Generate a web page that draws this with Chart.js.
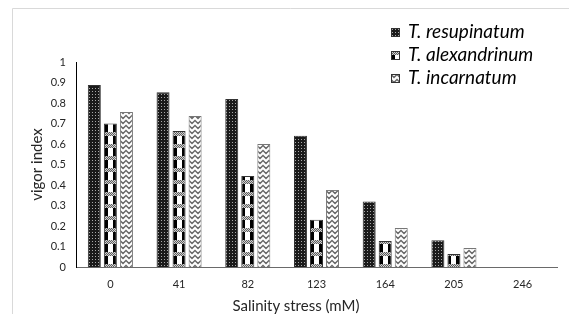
<!DOCTYPE html>
<html>
<head>
<meta charset="utf-8">
<script src="https://cdn.jsdelivr.net/npm/chart.js@4.4.1/dist/chart.umd.min.js"></script>
<style>
html, body { margin: 0; padding: 0; background: #fff; }
#wrap { position: relative; width: 569px; height: 314px; }
#legend { position: absolute; left: 391px; top: 19px; font: italic 19px Lato, sans-serif; color: #000; }
#legend div { height: 23px; line-height: 23px; white-space: nowrap; }
#legend canvas { vertical-align: middle; margin-right: 8px; position: relative; top: -1px; }
#xtitle { position: absolute; left: 196px; width: 200px; top: 297px; text-align: center; font: 15px Lato, sans-serif; line-height: 16px; color: #262626; }
</style>
</head>
<body>
<div id="wrap">
  <canvas id="chart" width="569" height="314"></canvas>
  <div id="legend"></div>
  <div id="xtitle">Salinity stress (mM)</div>
</div>
<script>
var categories = ['0', '41', '82', '123', '164', '205', '246'];
var seriesNames = ['T. resupinatum', 'T. alexandrinum', 'T. incarnatum'];
var resupinatum = [0.888, 0.853, 0.82, 0.64, 0.32, 0.13, 0];
var alexandrinum = [0.70, 0.663, 0.444, 0.23, 0.127, 0.063, 0];
var incarnatum = [0.756, 0.737, 0.60, 0.376, 0.19, 0.093, 0];
var yTickLabels = ['0', '0.1', '0.2', '0.3', '0.4', '0.5', '0.6', '0.7', '0.8', '0.9', '1'];

Chart.defaults.font.family = 'Lato, sans-serif';
Chart.defaults.color = '#262626';

// small tiles for the hatch fills
function tile(kind) {
  var c = document.createElement('canvas'), g;
  if (kind === 0) {
    c.width = 3; c.height = 3;
    g = c.getContext('2d');
    g.fillStyle = '#1a1a1a'; g.fillRect(0, 0, 3, 3);
    g.fillStyle = '#a8a8a8'; g.fillRect(1, 1, 1, 1);
  } else if (kind === 1) {
    c.width = 13; c.height = 12;
    g = c.getContext('2d');
    g.fillStyle = '#fff'; g.fillRect(0, 0, 13, 12);
    for (var y = 0; y < 4; y++)
      for (var x = 0; x < 13; x++) {
        g.fillStyle = (x + y) % 2 ? '#5e5e5e' : '#d0d0d0';
        g.fillRect(x, y, 1, 1);
      }
    g.fillStyle = '#000';
    g.fillRect(0, 4, 4, 8);
    g.fillRect(9, 4, 4, 8);
  } else {
    c.width = 6; c.height = 5;
    g = c.getContext('2d');
    g.fillStyle = '#fff'; g.fillRect(0, 0, 6, 5);
    g.strokeStyle = '#6a6a6a'; g.lineWidth = 1.5;
    g.beginPath();
    for (var k = -1; k <= 1; k++) {
      g.moveTo(-0.5, k * 5); g.lineTo(3, k * 5 + 3.5); g.lineTo(6.5, k * 5);
    }
    g.stroke();
  }
  return c;
}

var ctx = document.getElementById('chart').getContext('2d');
var tiles = [tile(0), tile(1), tile(2)];

function patterns(k, n) {
  var list = [];
  for (var i = 0; i < n; i++) list.push(ctx.createPattern(tiles[k], 'repeat'));
  return list;
}

// line each bar's pattern up with the bar's left edge
var patternAlign = {
  id: 'patternAlign',
  beforeDatasetsDraw: function(chart) {
    chart.data.datasets.forEach(function(ds, i) {
      chart.getDatasetMeta(i).data.forEach(function(bar) {
        var p = bar.options.backgroundColor;
        if (p && p.setTransform) {
          p.setTransform(new DOMMatrix().translate(Math.round(bar.x - bar.width / 2), 0));
        }
      });
    });
  }
};

var frame = {
  id: 'frame',
  beforeDraw: function(chart) {
    var c = chart.ctx;
    c.save();
    c.strokeStyle = '#d9d9d9';
    c.lineWidth = 1;
    c.beginPath();
    c.moveTo(12.5, 314); c.lineTo(12.5, 8.5); c.lineTo(569, 8.5);
    c.stroke();
    c.restore();
  }
};

var chart = new Chart(ctx, {
  type: 'bar',
  data: {
    labels: categories,
    datasets: [
      { label: seriesNames[0], data: resupinatum, backgroundColor: patterns(0, categories.length), borderColor: '#333', borderWidth: 1 },
      { label: seriesNames[1], data: alexandrinum, backgroundColor: patterns(1, categories.length), borderColor: '#333', borderWidth: 1 },
      { label: seriesNames[2], data: incarnatum, backgroundColor: patterns(2, categories.length), borderColor: '#777', borderWidth: 1 }
    ]
  },
  options: {
    responsive: false,
    animation: false,
    categoryPercentage: 0.70,
    barPercentage: 0.81,
    layout: { padding: { left: 23, right: 12, top: 62, bottom: 0 } },
    plugins: { legend: { display: false }, tooltip: { enabled: false } },
    scales: {
      x: {
        grid: { display: false, drawTicks: false },
        border: { display: true, color: '#6a6a6a' },
        ticks: { padding: 11, font: { size: 11 } },
        afterFit: function(s) { s.height = 47; }
      },
      y: {
        min: 0,
        max: 1,
        grid: { display: false, drawTicks: false },
        border: { display: true, color: '#000' },
        ticks: {
          stepSize: 0.1,
          padding: 10,
          font: { size: 11 },
          callback: function(v, i) { return yTickLabels[i]; }
        },
        title: { display: true, text: 'vigor index', font: { size: 15 }, padding: { top: 5, bottom: 0 } },
        afterFit: function(s) { s.width = 53; }
      }
    }
  },
  plugins: [frame, patternAlign]
});

// legend beside the plot, swatches use the same tiles
var legend = document.getElementById('legend');
seriesNames.forEach(function(name, k) {
  var row = document.createElement('div');
  var sw = document.createElement('canvas');
  sw.width = 9; sw.height = 9;
  var g = sw.getContext('2d');
  g.fillStyle = g.createPattern(tiles[k], 'repeat');
  g.fillRect(0, 0, 9, 9);
  g.strokeStyle = '#333';
  g.strokeRect(0.5, 0.5, 8, 8);
  row.appendChild(sw);
  row.appendChild(document.createTextNode(name));
  legend.appendChild(row);
});
</script>
</body>
</html>
